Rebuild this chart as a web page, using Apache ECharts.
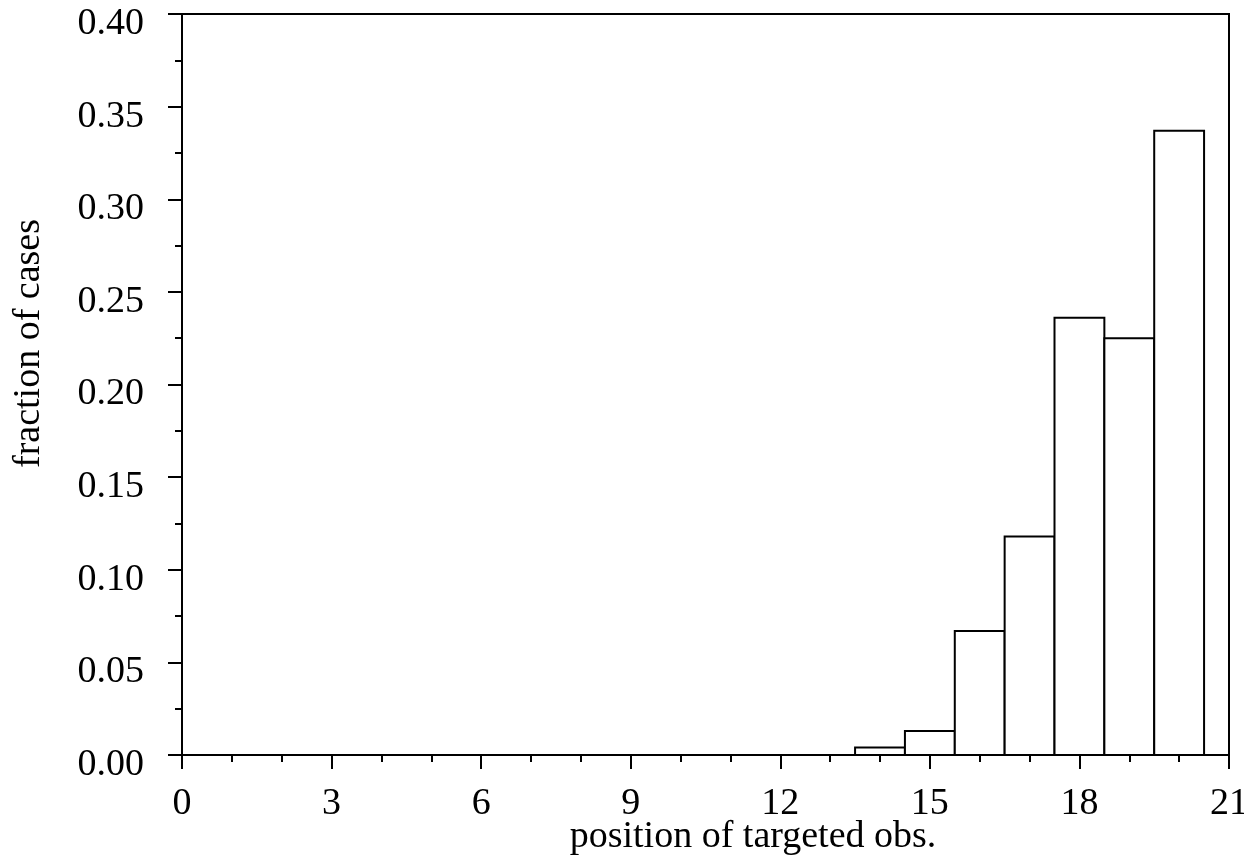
<!DOCTYPE html>
<html>
<head>
<meta charset="utf-8">
<script src="https://cdn.jsdelivr.net/npm/echarts@6/dist/echarts.min.js"></script>
<style>html,body{margin:0;padding:0;background:#fff}#c{width:1244px;height:860px}</style>
</head>
<body>
<div id="c"></div>
<script>
const positions = [1,2,3,4,5,6,7,8,9,10,11,12,13,14,15,16,17,18,19,20];
const fractions = [0,0,0,0,0,0,0,0,0,0,0,0,0,0.004,0.013,0.067,0.118,0.236,0.225,0.337];
const xAxisName = 'position of targeted obs.';
const yAxisName = 'fraction of cases';

const chart = echarts.init(document.getElementById('c'), null, {renderer:'canvas'});
const font = 'Liberation Serif';
const fs = 38;
const data = positions.map((p,i)=>[p, fractions[i]]);

chart.setOption({
  animation:false,
  backgroundColor:'#fff',
  grid:{left:182,right:15,top:14,bottom:105,containLabel:false,outerBoundsMode:'none',show:true,borderColor:'#000',borderWidth:2,backgroundColor:'transparent'},
  xAxis:{
    type:'value',min:0,max:21,interval:3,
    name:xAxisName,nameLocation:'middle',nameGap:63,nameMoveOverlap:false,
    nameTextStyle:{fontFamily:font,fontSize:fs,color:'#000',padding:[0,0,0,95]},
    axisLine:{show:true,onZero:false,lineStyle:{color:'#000',width:2}},
    axisTick:{show:true,inside:false,length:14,lineStyle:{color:'#000',width:2}},
    minorTick:{show:true,splitNumber:3,length:7,lineStyle:{color:'#000',width:2}},
    axisLabel:{fontFamily:font,fontSize:fs,color:'#000',margin:30},
    splitLine:{show:false}
  },
  yAxis:{
    type:'value',min:0,max:0.4,interval:0.05,
    name:yAxisName,nameLocation:'middle',nameGap:134,nameRotate:90,nameMoveOverlap:false,
    nameTextStyle:{fontFamily:font,fontSize:fs,color:'#000',padding:[0,0,0,82]},
    axisLine:{show:true,lineStyle:{color:'#000',width:2}},
    axisTick:{show:true,inside:false,length:14,lineStyle:{color:'#000',width:2}},
    minorTick:{show:true,splitNumber:2,length:7,lineStyle:{color:'#000',width:2}},
    axisLabel:{fontFamily:font,fontSize:fs,color:'#000',margin:38,verticalAlign:'top',lineHeight:20,formatter:v=>v.toFixed(2)},
    splitLine:{show:false}
  },
  series:[{
    type:'custom',
    data:data,
    renderItem:function(params, api){
      const x = api.value(0), y = api.value(1);
      const p1 = api.coord([x-0.5, y]);
      const p2 = api.coord([x+0.5, 0]);
      return {type:'rect',shape:{x:p1[0],y:p1[1],width:p2[0]-p1[0],height:p2[1]-p1[1]},
        style:{fill:'#fff',stroke:'#000',lineWidth:2}};
    }
  }]
});
</script>
</body>
</html>
